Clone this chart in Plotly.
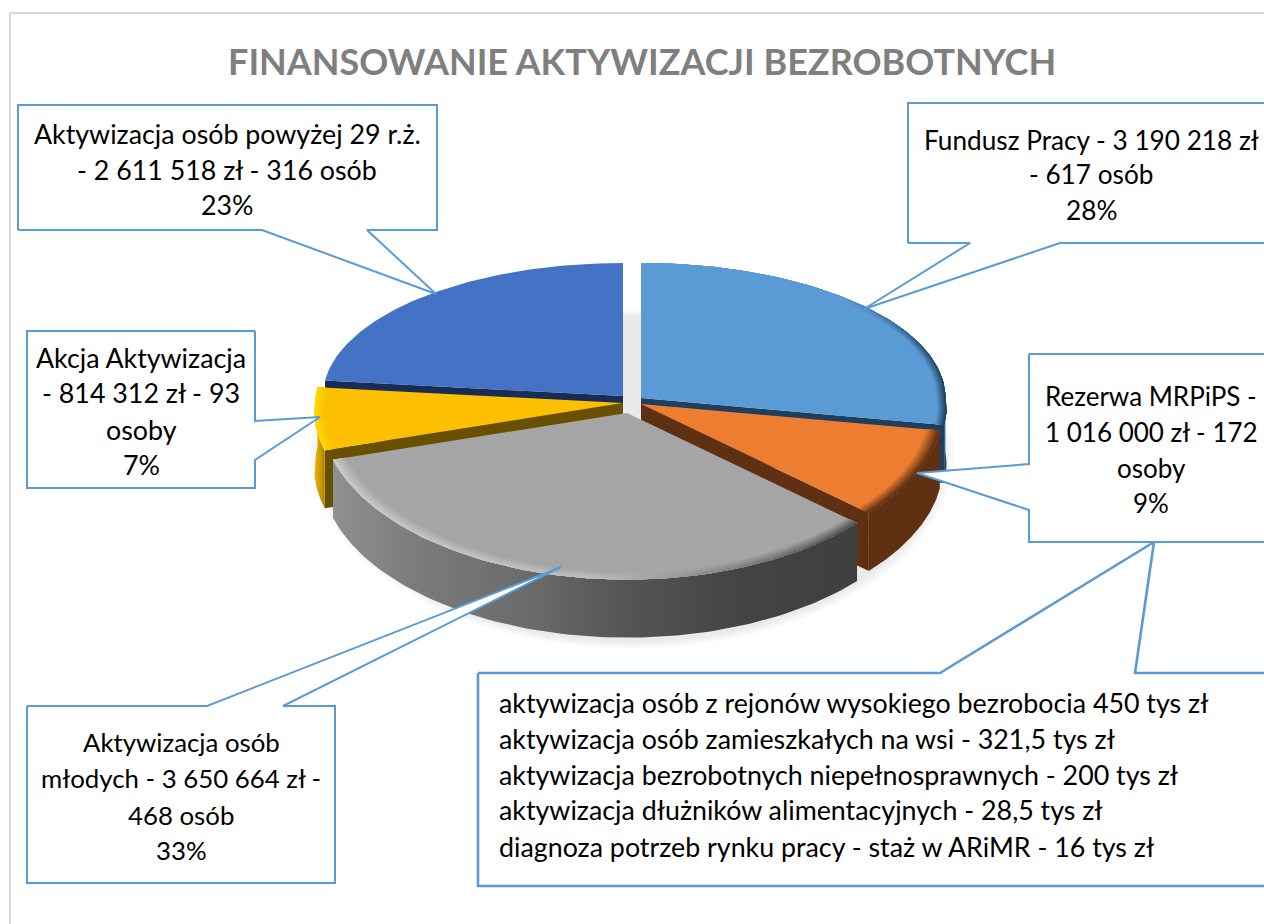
import numpy as np
import plotly.graph_objects as go

# ---------- data ----------
categories = ["Fundusz Pracy", "Rezerwa MRPiPS", "Aktywizacja osób młodych",
              "Akcja Aktywizacja", "Aktywizacja osób powyżej 29 r.ż."]
values = [3190218, 1016000, 3650664, 814312, 2611518]
top_colors = ["#5B9BD5", "#ED7D31", "#A5A5A5", "#FDC000", "#4472C4"]
radial_colors = ["#1F3F5F", "#5F3112", "#5F5F5F", "#685000", "#182C55"]

title_text = "FINANSOWANIE AKTYWIZACJI BEZROBOTNYCH"
label_fundusz = ["Fundusz Pracy - 3 190 218 zł", "- 617 osób", "28%"]
label_rezerwa = ["Rezerwa MRPiPS -", "1 016 000 zł - 172", "osoby", "9%"]
label_mlodzi = ["Aktywizacja osób", "młodych - 3 650 664 zł -", "468 osób", "33%"]
label_akcja = ["Akcja Aktywizacja", "- 814 312 zł - 93", "osoby", "7%"]
label_powyzej = ["Aktywizacja osób powyżej 29 r.ż.", "- 2 611 518 zł - 316 osób", "23%"]
detail_lines = [
    "aktywizacja osób z rejonów wysokiego bezrobocia 450 tys zł",
    "aktywizacja osób zamieszkałych na wsi - 321,5 tys zł",
    "aktywizacja bezrobotnych niepełnosprawnych - 200 tys zł",
    "aktywizacja dłużników alimentacyjnych - 28,5 tys zł",
    "diagnoza potrzeb rynku pracy - staż w ARiMR - 16 tys zł",
]

# ---------- geometry of the tilted pie ----------
A, B_BACK, B_FRONT, K, DEPTH, P = 300.0, 133.0, 165.0, 0.085, 58.0, 1.15
centers = [(641, 398), (641, 404), (627, 413), (623, 403), (623, 396)]
scales = [1.015, 1.0, 1.01, 1.025, 1.0]
FONT = "Lato"
LINE = "#5B9BD5"


def project(theta, c, s=1.0, dz=0.0):
    t = np.radians(theta)
    sn, cs = np.sin(t), np.cos(t)
    x = c[0] + s * A * sn * (1 + K * np.maximum(0, -cs))
    y = c[1] + s * np.where(cs > 0, B_BACK * (-cs), B_FRONT * (-np.minimum(cs, 0)) ** P) + dz
    return x, y


def arc(t0, t1, c, s=1.0, dz=0.0):
    th = np.linspace(t0, t1, 90)
    return project(th, c, s, dz)


def mix(c1, c2, t):
    a = [int(c1[i:i + 2], 16) for i in (1, 3, 5)]
    b = [int(c2[i:i + 2], 16) for i in (1, 3, 5)]
    return "#%02x%02x%02x" % tuple(round(p + (q - p) * t) for p, q in zip(a, b))


fig = go.Figure()


def poly(x, y, color=None, gradient=None):
    kw = dict(fillcolor=color) if gradient is None else dict(
        fillgradient=dict(type="horizontal", colorscale=gradient))
    fig.add_trace(go.Scatter(x=list(x), y=list(y), mode="lines", fill="toself",
                             line=dict(width=0), hoverinfo="skip", showlegend=False, **kw))


def wall(t0, t1, c, color=None, gradient=None, s=1.0):
    xa, ya = arc(t0, t1, c, s)
    xb, yb = arc(t0, t1, c, s, dz=DEPTH)
    poly(np.r_[xa, xb[::-1]], np.r_[ya, yb[::-1]], color, gradient)


def radial(theta, c, color, s=1.0):
    x, y = project(theta, c, s)
    poly([c[0], float(x), float(x), c[0]], [c[1], float(y), float(y) + DEPTH, c[1] + DEPTH], color)


def top(t0, t1, c, color, s=1.0):
    x, y = arc(t0, t1, c, s)
    poly(np.r_[c[0], x], np.r_[c[1], y], color)


def bevel(t0, t1, c, color, edge_stops, width=0.03, steps=8, s=1.0):
    # widest, faintest band first; narrower, stronger bands on top, so no seams show
    for i in range(steps, 0, -1):
        inner = s * (1 - width * i / steps)
        f = 1 - (i - 1) / steps
        xa, ya = arc(t0, t1, c, s)
        xb, yb = arc(t0, t1, c, inner)
        grad = [[p, mix(color, e, f)] for p, e in edge_stops]
        poly(np.r_[xa, xb[::-1]], np.r_[ya, yb[::-1]], gradient=grad)


# angles of the slices, clockwise from the top, from the values
shares = np.array(values, dtype=float) / sum(values)
edges = np.r_[0, np.cumsum(shares)] * 360

# soft shadow below the pie
th_all = np.linspace(0, 360, 181)
for i in range(7):
    g = 1 + 0.006 * i
    t = np.radians(th_all)
    poly(632 + 312 * g * np.sin(t),
         452 + np.where(np.cos(t) > 0, 137, 190) * g * (-np.cos(t)),
         "rgba(0,0,0,0.013)")

# Fundusz Pracy
radial(edges[1], centers[0], radial_colors[0], scales[0])
wall(88, edges[1], centers[0], radial_colors[0], s=scales[0])
top(edges[0], edges[1], centers[0], top_colors[0], scales[0])
bevel(edges[0], edges[1], centers[0], top_colors[0],
      [[0, "#5B9BD5"], [0.66, "#5B9BD5"], [0.82, "#3F6F9F"], [1, "#1F3F5F"]], 0.03, s=scales[0])

# Powyżej 29
radial(edges[4], centers[4], radial_colors[4], scales[4])
top(edges[4], edges[5], centers[4], top_colors[4], scales[4])

# Rezerwa
radial(edges[2], centers[1], radial_colors[1], scales[1])
wall(edges[1], edges[2], centers[1], radial_colors[1], s=scales[1])
top(edges[1], edges[2], centers[1], top_colors[1], scales[1])
bevel(edges[1], edges[2], centers[1], top_colors[1], [[0, "#5F3112"], [1, "#5F3112"]], 0.045, s=scales[1])

# Akcja
radial(edges[3], centers[3], radial_colors[3], scales[3])
wall(edges[3], edges[4], centers[3], gradient=[[0, "#F0B400"], [0.5, "#D09E00"], [1, "#B08400"]], s=scales[3])
top(edges[3], edges[4], centers[3], top_colors[3], scales[3])
bevel(edges[3], edges[4], centers[3], top_colors[3], [[0, "#FFDC00"], [1, "#FFD400"]], 0.03, s=scales[3])

# Młodzi
wall(edges[2], edges[3], centers[2],
     gradient=[[0, "#909090"], [0.15, "#7C7C7C"], [0.38, "#6A6A6A"], [0.55, "#555555"],
               [0.78, "#444444"], [1, "#3F3F3F"]], s=scales[2])
top(edges[2], edges[3], centers[2], top_colors[2], scales[2])
bevel(edges[2], edges[3], centers[2], top_colors[2],
      [[0, "#C8C8C8"], [0.5, "#BEBEBE"], [0.72, "#8A8A8A"], [1, "#4E4E4E"]], 0.045, s=scales[2])


# ---------- callouts ----------
def callout(x, y, width=2.0):
    fig.add_trace(go.Scatter(x=x, y=y, mode="lines", fill="toself", fillcolor="white",
                             line=dict(color=LINE, width=width),
                             hoverinfo="skip", showlegend=False))


callout([18, 262, 436, 367, 437, 437, 18, 18], [230, 230, 294, 230, 230, 105, 105, 230])
callout([908, 970, 864, 1060, 1300, 1300, 908, 908], [243, 243, 309, 243, 243, 103, 103, 243])
callout([1029, 1029, 917, 1029, 1029, 1300, 1300, 1029], [354, 464, 473, 510, 542, 542, 354, 354])
callout([255, 255, 320, 255, 255, 27, 27, 255], [331, 421, 417, 460, 488, 488, 331, 331])
callout([27, 207, 561, 283, 335, 335, 27, 27], [706, 706, 567, 706, 706, 883, 883, 706])
callout([478, 940, 1154, 1135, 1300, 1300, 478, 478], [673, 673, 542, 673, 673, 886, 886, 673], 2.6)

# ---------- text ----------
annotations = []


def text_block(lines, x, ys, anchor="center", size=26.8):
    for line, y in zip(lines, ys):
        annotations.append(dict(x=x, y=y, text=line, showarrow=False, xanchor=anchor,
                                yanchor="middle", xref="x", yref="y",
                                font=dict(family=FONT, size=size, color="#000000")))


text_block(label_powyzej, 227, [134, 170, 205])
text_block(label_fundusz, 1091, [140, 174, 210], size=26.2)
text_block(label_rezerwa, 1151, [396, 432, 468, 503], size=26)
text_block(label_akcja, 141, [358, 393, 430, 465])
text_block(label_mlodzi, 181, [742, 778, 815, 850], size=25.8)
text_block(detail_lines, 497, [703, 739, 775, 810, 847], "left")
annotations.append(dict(x=642, y=61, text="<b>%s</b>" % title_text, showarrow=False,
                        xanchor="center", yanchor="middle", xref="x", yref="y",
                        font=dict(family=FONT, size=36, color="#7F7F7F")))

fig.update_layout(
    width=1264, height=924, margin=dict(l=0, r=0, t=0, b=0),
    paper_bgcolor="white", plot_bgcolor="white", showlegend=False,
    xaxis=dict(range=[0, 1264], visible=False, fixedrange=True),
    yaxis=dict(range=[924, 0], visible=False, fixedrange=True),
    annotations=annotations,
    shapes=[dict(type="path", path="M 10 1000 L 10 13 L 1300 13", xref="x", yref="y",
                 line=dict(color="#D9D9D9", width=2))],
)

fig.write_html("out.html", config={"displayModeBar": False},
               post_script="document.body.style.margin='0';document.body.style.overflow='hidden';")
